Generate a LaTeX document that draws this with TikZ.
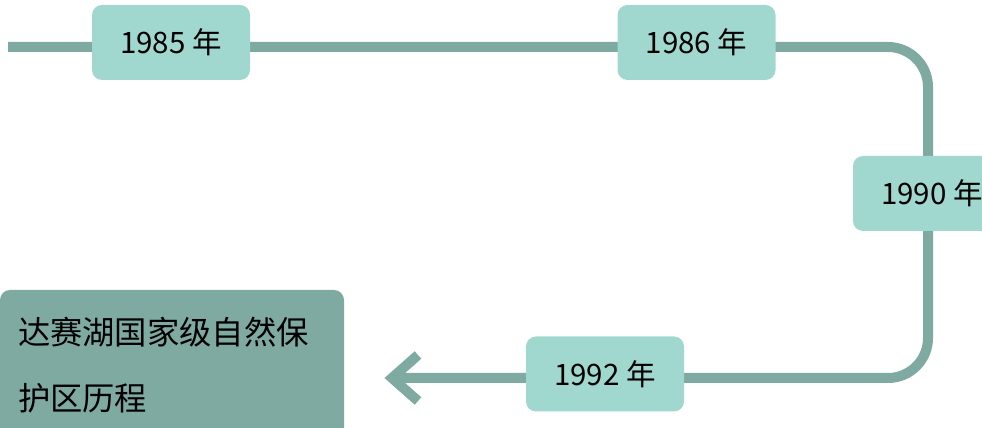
\documentclass[tikz,border=0pt]{standalone}
\usepackage{fontspec}
\newfontfamily\cjk{Noto Sans CJK SC}
\definecolor{linec}{HTML}{7FAAA2}
\definecolor{boxc}{HTML}{A0D7CE}
\tikzset{
  yearbox/.style={fill=boxc, rounded corners=10pt, minimum width=158pt, minimum height=75pt, inner sep=0pt, font=\cjk\fontsize{29.5}{34}\selectfont, text=black},
  mainline/.style={draw=linec, line width=10pt},
  titlebox/.style={fill=linec, rounded corners=10pt, minimum width=344pt, minimum height=150pt, inner xsep=18pt, text width=308pt, align=left, font=\cjk\fontsize{32.3}{66}\selectfont, text=black},
}
\begin{document}
\begin{tikzpicture}[x=1pt,y=1pt]
\useasboundingbox (0,0) rectangle (982,428);
\clip (0,0) rectangle (982,428);
\coordinate (start) at (8,381);
\coordinate (c1) at (928,381);
\coordinate (c2) at (928,50);
\coordinate (tip) at (392,50);
\draw[mainline, rounded corners=40pt] (start) -- (c1) -- (c2) -- (tip);
\draw[mainline, line join=miter, line cap=butt] ([shift={(26,23)}]tip) -- (tip) -- ([shift={(26,-23)}]tip);
\node[yearbox] (y1985) at (171,385.5) {1985 年};
\node[yearbox] (y1986) at (696.5,385.5) {1986 年};
\node[yearbox] (y1990) at (932,234.5) {1990 年};
\node[yearbox] (y1992) at (605,54) {1992 年};
\node[titlebox] (title) at (172,63) {达赛湖国家级自然保\\护区历程};
\end{tikzpicture}
\end{document}
